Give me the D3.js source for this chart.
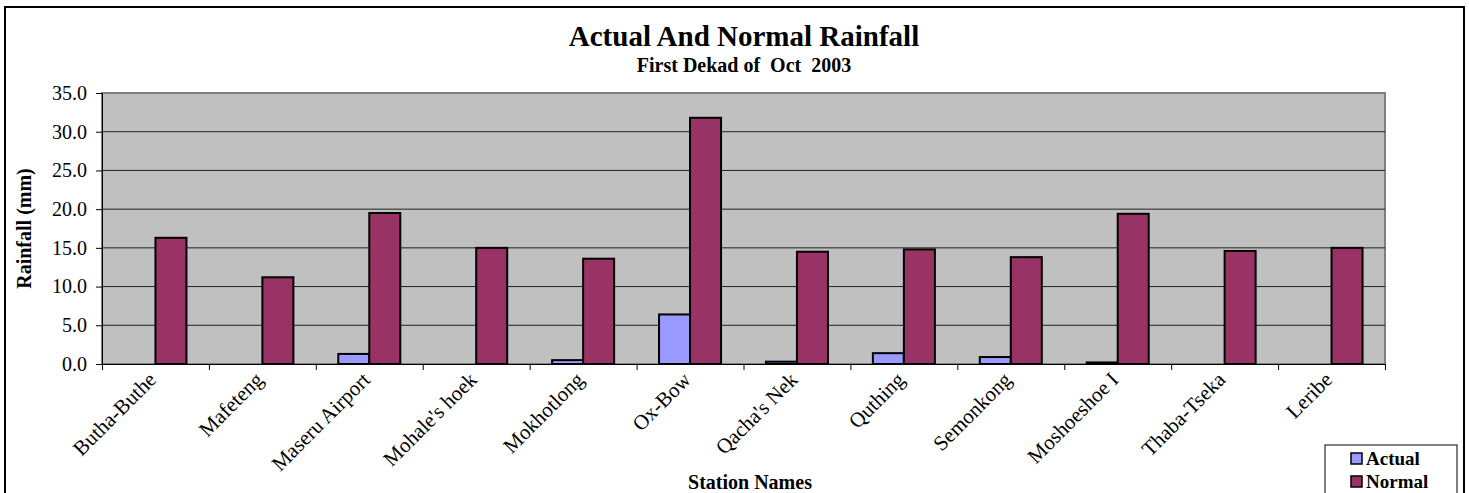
<!DOCTYPE html>
<html>
<head>
<meta charset="utf-8">
<script src="https://cdn.jsdelivr.net/npm/d3@7"></script>
<style>
  body { margin: 0; background: #fff; }
  svg text { font-family: "Liberation Serif", "Times New Roman", serif; }
</style>
</head>
<body>
<div id="chart"></div>
<script>
// rainfall per station, first dekad of Oct 2003
var stations = ["Butha-Buthe", "Mafeteng", "Maseru Airport", "Mohale's hoek", "Mokhotlong",
  "Ox-Bow", "Qacha's Nek", "Quthing", "Semonkong", "Moshoeshoe I", "Thaba-Tseka", "Leribe"];
var actual = [0, 0, 1.3, 0, 0.5, 6.4, 0.3, 1.4, 0.9, 0.2, 0, 0];
var normal = [16.3, 11.2, 19.5, 15.0, 13.6, 31.8, 14.5, 14.8, 13.8, 19.4, 14.6, 15.0];
var seriesNames = ["Actual", "Normal"];
var yTicks = [0, 5, 10, 15, 20, 25, 30, 35];

var colors = { Actual: "#9999FF", Normal: "#993366" };

var svgWidth = 1469;
var svgHeight = 493;
var margin = { top: 93, right: 84, bottom: 129, left: 102 };
var width = svgWidth - margin.left - margin.right;
var height = svgHeight - margin.top - margin.bottom;

var svg = d3.select("#chart")
  .append("svg")
  .attr("width", svgWidth)
  .attr("height", svgHeight);

// outer chart border
svg.append("rect")
  .attr("x", 5).attr("y", 7)
  .attr("width", 1459).attr("height", 520)
  .attr("fill", "none")
  .attr("stroke", "#000")
  .attr("stroke-width", 2);

// titles
svg.append("text")
  .attr("x", 744).attr("y", 46)
  .attr("text-anchor", "middle")
  .attr("font-size", 29).attr("font-weight", "bold")
  .text("Actual And Normal Rainfall");

svg.append("text")
  .attr("x", 744).attr("y", 72)
  .attr("text-anchor", "middle")
  .attr("font-size", 20).attr("font-weight", "bold")
  .style("white-space", "pre")
  .text("First Dekad of  Oct  2003");

var chartGroup = svg.append("g")
  .attr("transform", `translate(${margin.left}, ${margin.top})`);

// scales
var x0 = d3.scaleBand()
  .domain(stations)
  .range([0, width])
  .paddingInner(0.42)
  .paddingOuter(0.21);

var x1 = d3.scaleBand()
  .domain(seriesNames)
  .range([0, x0.bandwidth()]);

var y = d3.scaleLinear()
  .domain([0, 35])
  .range([height, 0]);

// plot background
chartGroup.append("rect")
  .attr("width", width).attr("height", height)
  .attr("fill", "#C0C0C0")
  .attr("stroke", "#808080")
  .attr("stroke-width", 2);

// gridlines
chartGroup.append("g")
  .selectAll("line")
  .data(yTicks.filter(d => d > 0 && d < 35))
  .enter()
  .append("line")
  .attr("x1", 0).attr("x2", width)
  .attr("y1", d => y(d)).attr("y2", d => y(d))
  .attr("stroke", "#222")
  .attr("stroke-width", 1);

// bars
var data = stations.map((s, i) => ({ station: s, values: [
  { key: "Actual", value: actual[i] },
  { key: "Normal", value: normal[i] }
]}));

var groups = chartGroup.selectAll(".station")
  .data(data)
  .enter()
  .append("g")
  .attr("transform", d => `translate(${x0(d.station)}, 0)`);

groups.selectAll("rect")
  .data(d => d.values.filter(v => v.value > 0))
  .enter()
  .append("rect")
  .attr("x", d => x1(d.key))
  .attr("y", d => y(d.value))
  .attr("width", x1.bandwidth())
  .attr("height", d => height - y(d.value))
  .attr("fill", d => colors[d.key])
  .attr("stroke", "#000")
  .attr("stroke-width", 2);

// axes
var leftAxis = d3.axisLeft(y)
  .tickValues(yTicks)
  .tickFormat(d3.format(".1f"))
  .tickSizeInner(6)
  .tickSizeOuter(0)
  .tickPadding(9);

var yAxisG = chartGroup.append("g").call(leftAxis);
yAxisG.selectAll("text")
  .attr("font-size", 20)
  .attr("font-family", "Liberation Serif, serif")
  .attr("fill", "#000");
yAxisG.selectAll("line, path").attr("stroke", "#000");

var xTickScale = d3.scaleLinear().domain([0, stations.length]).range([0, width]);
var bottomAxis = d3.axisBottom(xTickScale)
  .tickValues(d3.range(0, stations.length + 1))
  .tickSizeInner(6)
  .tickSizeOuter(0)
  .tickFormat("");
var xAxisG = chartGroup.append("g")
  .attr("transform", `translate(0, ${height})`)
  .call(bottomAxis);
xAxisG.selectAll("line, path").attr("stroke", "#000");

// station labels, rotated
chartGroup.append("g")
  .selectAll("text")
  .data(stations)
  .enter()
  .append("text")
  .attr("text-anchor", "end")
  .attr("font-size", 21)
  .attr("transform", d => `translate(${x0(d) + x0.bandwidth() / 2 + 2}, ${height + 17}) rotate(-45)`)
  .text(d => d);

// axis titles
svg.append("text")
  .attr("transform", `translate(31, ${margin.top + height / 2}) rotate(-90)`)
  .attr("text-anchor", "middle")
  .attr("font-size", 20).attr("font-weight", "bold")
  .text("Rainfall (mm)");

svg.append("text")
  .attr("x", 750).attr("y", 489)
  .attr("text-anchor", "middle")
  .attr("font-size", 20).attr("font-weight", "bold")
  .text("Station Names");

// legend
var legend = svg.append("g").attr("transform", "translate(1325, 445)");
legend.append("rect")
  .attr("width", 132).attr("height", 60)
  .attr("fill", "#fff")
  .attr("stroke", "#000")
  .attr("stroke-width", 1);

var items = legend.selectAll(".item")
  .data(seriesNames)
  .enter()
  .append("g")
  .attr("transform", (d, i) => `translate(26, ${8 + i * 23})`);

items.append("rect")
  .attr("width", 11).attr("height", 11)
  .attr("fill", d => colors[d])
  .attr("stroke", "#000")
  .attr("stroke-width", 1.5);

items.append("text")
  .attr("x", 15).attr("y", 12)
  .attr("font-size", 19).attr("font-weight", "bold")
  .text(d => d);
</script>
</body>
</html>
